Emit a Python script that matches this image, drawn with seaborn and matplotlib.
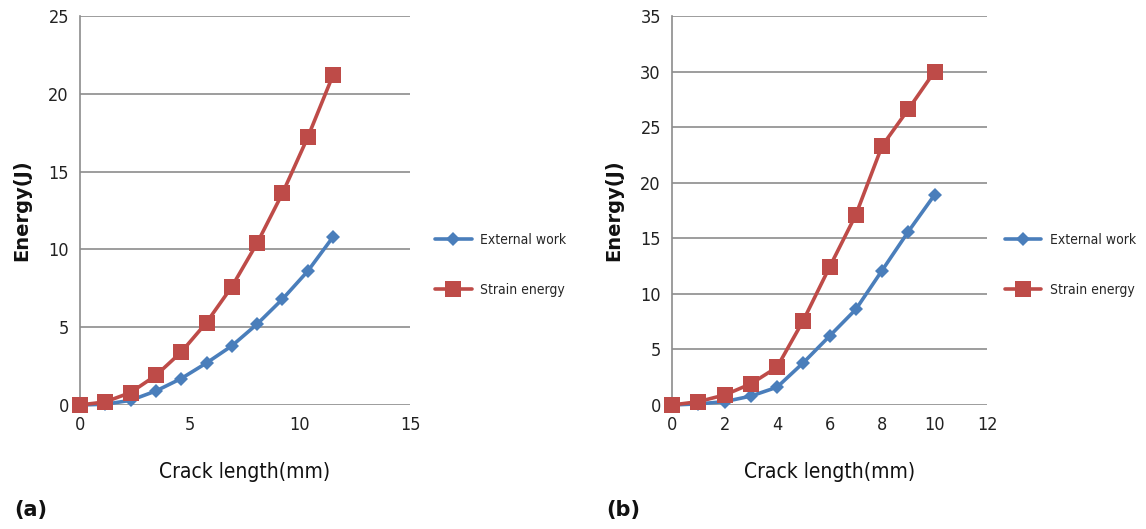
import numpy as np
import pandas as pd
import matplotlib
matplotlib.use("Agg")
import matplotlib.pyplot as plt
import seaborn as sns
from matplotlib import font_manager

# Data
crack_a = [0, 1.15, 2.3, 3.45, 4.6, 5.75, 6.9, 8.05, 9.2, 10.35, 11.5]
ext_a = [0, 0.05, 0.3, 0.9, 1.7, 2.7, 3.8, 5.2, 6.8, 8.6, 10.8]
strain_a = [0, 0.2, 0.8, 1.9, 3.4, 5.3, 7.6, 10.4, 13.6, 17.2, 21.2]

crack_b = [0, 1, 2, 3, 4, 5, 6, 7, 8, 9, 10]
ext_b = [0, 0.1, 0.3, 0.8, 1.6, 3.8, 6.2, 8.6, 12.1, 15.6, 18.9]
strain_b = [0, 0.3, 0.9, 1.9, 3.4, 7.6, 12.4, 17.1, 23.3, 26.6, 30.0]

series_names = ["External work", "Strain energy"]
xticks_a = [0, 5, 10, 15]
yticks_a = [0, 5, 10, 15, 20, 25]
xticks_b = [0, 2, 4, 6, 8, 10, 12]
yticks_b = [0, 5, 10, 15, 20, 25, 30, 35]
panel_labels = ["(a)", "(b)"]

sns.set_theme(style="white")
names = {f.name for f in font_manager.fontManager.ttflist}
narrow = [n for n in ["Liberation Sans Narrow", "DejaVu Sans"] if n in names]
plt.rcParams["font.family"] = narrow
plt.rcParams["font.stretch"] = "condensed"

BLUE = "#4a7ebb"
RED = "#be4b48"
palette = {"External work": BLUE, "Strain energy": RED}
markers = {"External work": "D", "Strain energy": "s"}

fig = plt.figure(figsize=(11.46, 5.29), dpi=100)

def make_df(x, e, s):
    return pd.DataFrame({
        "Crack": list(x) + list(x),
        "Energy": list(e) + list(s),
        "Series": [series_names[0]] * len(x) + [series_names[1]] * len(x),
    })

panels = [
    (make_df(crack_a, ext_a, strain_a), [0.0698, 0.2344, 0.288, 0.7354], xticks_a, yticks_a, (0, 15), (0, 25), 1.06),
    (make_df(crack_b, ext_b, strain_b), [0.5864, 0.2344, 0.2749, 0.7354], xticks_b, yticks_b, (0, 12), (0, 35), 1.04),
]

def fp(size, weight="normal", stretch="condensed"):
    return font_manager.FontProperties(family=narrow, size=size, weight=weight, stretch=stretch)

for i, (df, pos, xt, yt, xl, yl, legx) in enumerate(panels):
    ax = fig.add_axes(pos)
    for name in series_names:
        sub = df[df["Series"] == name]
        sns.lineplot(data=sub, x="Crack", y="Energy", ax=ax, color=palette[name],
                     marker=markers[name], markersize=7 if name == "External work" else 11,
                     markeredgewidth=0, linewidth=2.6, label=name, legend=False,
                     clip_on=False, zorder=3)
    ax.set_xlim(*xl)
    ax.set_ylim(*yl)
    ax.set_xticks(xt)
    ax.set_yticks(yt)
    ax.yaxis.grid(True, color="#8c8c8c", linewidth=1.2)
    ax.xaxis.grid(False)
    for s in ["top", "right", "bottom"]:
        ax.spines[s].set_visible(False)
    ax.spines["left"].set_color("#8c8c8c")
    ax.spines["left"].set_linewidth(1.2)
    ax.tick_params(axis="both", length=0, pad=8, colors="#222222")
    for lab in ax.get_xticklabels() + ax.get_yticklabels():
        lab.set_fontproperties(fp(13))
    ax.set_xlabel("Crack length(mm)", fontproperties=fp(15), labelpad=20, color="#111111")
    ax.set_ylabel("Energy(J)", fontproperties=fp(14, "bold", "normal"), labelpad=12, color="#111111")
    handles, labels = ax.get_legend_handles_labels()
    leg = ax.legend(handles, labels, loc="center left", bbox_to_anchor=(legx, 0.36),
                    frameon=False, prop=fp(10), labelspacing=2.55, handlelength=2.6,
                    handletextpad=0.6, borderaxespad=0)
    fig.text(pos[0] - 0.057, 0.025, panel_labels[i], fontproperties=fp(15, "bold", "normal"),
             color="#111111")

fig.savefig("out.png", dpi=100)
